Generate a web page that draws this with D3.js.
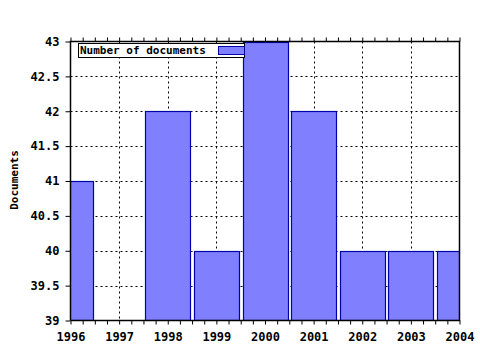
<!DOCTYPE html>
<html>
<head>
<meta charset="UTF-8">
<script src="https://cdnjs.cloudflare.com/ajax/libs/d3/7.8.5/d3.min.js"></script>
<style>
  body { margin: 0; background: #fff; }
  text { font-family: "DejaVu Sans Mono", monospace; font-size: 11px; font-weight: bold; fill: #000; }
</style>
</head>
<body>
<svg width="480" height="350"></svg>
<script>
var years = [1996, 1997, 1998, 1999, 2000, 2001, 2002, 2003, 2004];
var docs = [41, 39, 42, 40, 43, 42, 40, 40, 40];
var yTicks = [39, 39.5, 40, 40.5, 41, 41.5, 42, 42.5, 43];
var seriesName = "Number of documents";

var svg = d3.select("svg");
var pLeft = 70.5, pRight = 459.5, pTop = 41.5, pBottom = 320.5;

var x = d3.scaleLinear().domain([1996, 2004]).range([pLeft, pRight]);
var y = d3.scaleLinear().domain([39, 43]).range([pBottom, pTop]);

svg.append("clipPath").attr("id", "plot")
  .append("rect").attr("x", pLeft).attr("y", pTop - 1)
  .attr("width", pRight - pLeft).attr("height", pBottom - pTop + 1);

// grid
var grid = svg.append("g").attr("stroke", "#000").attr("stroke-dasharray", "2,3").attr("stroke-width", 1);
grid.selectAll(".gx").data(years.slice(1, -1)).enter().append("line")
  .attr("x1", function(d){ return Math.round(x(d)) + 0.5; })
  .attr("x2", function(d){ return Math.round(x(d)) + 0.5; })
  .attr("y1", pTop).attr("y2", pBottom);
grid.selectAll(".gy").data(yTicks.slice(1, -1)).enter().append("line")
  .attr("x1", pLeft).attr("x2", pRight)
  .attr("y1", function(d){ return Math.round(y(d)) + 0.5; })
  .attr("y2", function(d){ return Math.round(y(d)) + 0.5; });

// bars
var step = x(1997) - x(1996);
var bw = Math.round(step * 0.92);
var barData = years.map(function(yr, i){ return {year: yr, value: docs[i]}; })
  .filter(function(d){ return d.value > 39; });
svg.append("g").attr("clip-path", "url(#plot)")
  .selectAll("rect").data(barData).enter().append("rect")
  .attr("x", function(d){ return Math.round(x(d.year) - bw / 2) + 0.5; })
  .attr("width", bw)
  .attr("y", function(d){ return Math.round(y(d.value)) + 0.5; })
  .attr("height", function(d){ return pBottom - Math.round(y(d.value)) - 0.5; })
  .attr("fill", "#8080ff").attr("stroke", "#0000a8").attr("stroke-width", 1.2);

// frame
svg.append("path").attr("fill", "none").attr("stroke", "#000").attr("stroke-width", 1.5)
  .attr("d", "M" + pLeft + "," + pBottom + "V" + pTop + "H" + pRight + "V" + pBottom + "H" + pLeft);

// y axis
var yAxis = d3.axisLeft(y).tickValues(yTicks).tickSize(5).tickPadding(6)
  .tickFormat(function(d){ return String(d); });
var ga = svg.append("g").attr("transform", "translate(" + pLeft + ",0)").call(yAxis);
ga.select(".domain").remove();
ga.selectAll("text").style("font-size", "12px");

// x axis (bottom) with minor ticks
var minor = d3.range(0, 33).map(function(i){ return 1996 + i / 4; });
var xb = svg.append("g").attr("transform", "translate(0," + pBottom + ")");
xb.call(d3.axisBottom(x).tickValues(minor).tickSize(4).tickFormat(""));
xb.select(".domain").remove();
var xl = svg.append("g").attr("transform", "translate(0," + pBottom + ")")
  .call(d3.axisBottom(x).tickValues(years).tickSize(0).tickPadding(12).tickFormat(d3.format("d")));
xl.select(".domain").remove();
xl.selectAll("text").style("font-size", "12px");

// top minor ticks
var xt = svg.append("g").attr("transform", "translate(0," + pTop + ")");
xt.call(d3.axisTop(x).tickValues(minor).tickSize(4).tickFormat(""));
xt.select(".domain").remove();

svg.selectAll(".tick line").attr("stroke", "#000");

// y label
svg.append("text").attr("transform", "translate(18,180) rotate(-90)")
  .attr("text-anchor", "middle").text("Documents");

// legend
var lg = svg.append("g");
lg.append("rect").attr("x", 78.5).attr("y", 43.5).attr("width", 166).attr("height", 14)
  .attr("fill", "#fff").attr("stroke", "#000");
lg.append("text").attr("x", 80).attr("y", 54).text(seriesName);
lg.append("rect").attr("x", 218.5).attr("y", 46.5).attr("width", 26).attr("height", 8)
  .attr("fill", "#8080ff").attr("stroke", "#0000a8");
</script>
</body>
</html>
